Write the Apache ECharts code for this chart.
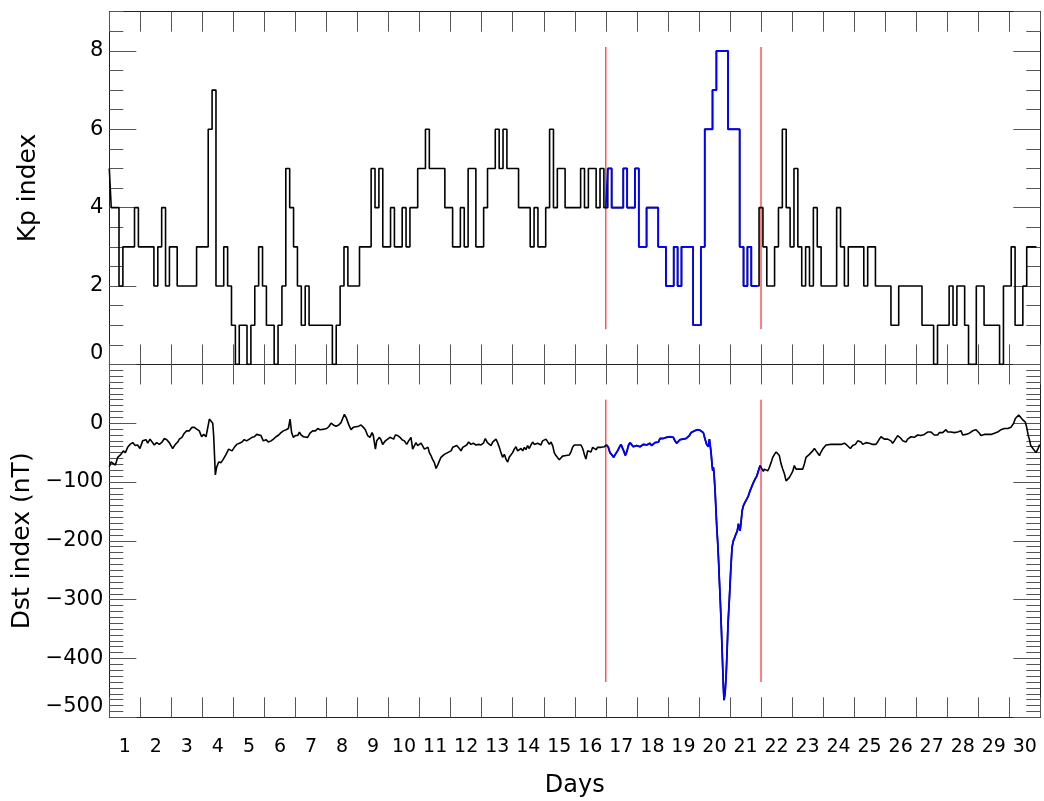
<!DOCTYPE html>
<html>
<head>
<meta charset="utf-8">
<script src="https://cdn.jsdelivr.net/npm/echarts@6.0.0/dist/echarts.min.js"></script>
<style>
html,body{margin:0;padding:0;background:#ffffff;}
#chart{width:1044px;height:801px;}
</style>
</head>
<body>
<div id="chart"></div>
<script>
// ================= DATA =================
const dayLabels = ['1','2','3','4','5','6','7','8','9','10','11','12','13','14','15',
                   '16','17','18','19','20','21','22','23','24','25','26','27','28','29','30'];

// Kp index, one value every 3 hours (240 values, 30 days)
const kpStepHours = 3;
const kpValues = [
  5,4,4,2,3,3,3,4,  3,3,3,3,2,3,4,2,  3,3,2,2,2,2,2,3,  3,3,6,7,2,2,3,2,
  1,0,1,1,0,1,2,3,  2,1,1,0,1,2,5,4,  3,2,1,2,1,1,1,1,  1,1,0,1,2,3,2,2,
  2,3,3,3,5,4,5,3,  3,4,3,3,4,3,4,4,  5,5,6,5,5,5,5,4,  4,3,3,4,3,5,5,3,
  3,4,5,5,6,5,6,5,  5,5,4,4,4,3,4,3,  3,4,6,4,5,5,4,4,  4,4,5,4,5,5,4,5,
  4,5,4,4,4,5,4,4,  5,3,3,4,4,4,3,3,  2,2,3,2,3,3,3,1,  1,3,6,6,7,8,8,8,
  6,6,6,3,2,3,2,2,  4,3,2,2,3,4,6,4,  3,5,3,2,3,2,4,3,  2,2,2,2,4,3,2,3,
  3,3,3,2,3,3,2,2,  2,2,1,1,2,2,2,2,  2,2,1,1,1,0,1,1,  1,2,1,2,2,1,0,0,
  2,2,1,1,1,1,0,2,  2,3,1,1,2,3,3,3
];

// Dst index (nT): sample times in hours from the start of day 1, and values
const dstHours = [
  0.0,1.3,2.6,4.7,6.5,9.0,10.8,12.4,14.2,16.0,18.1,20.1,21.9,23.7,25.8,27.1,28.4,29.7,31.5,33.0,
  34.8,36.6,38.7,40.8,42.6,44.4,46.4,49.0,51.1,52.9,54.2,56.2,58.0,59.8,61.9,64.0,65.8,67.6,69.6,71.4,
  73.0,74.8,76.1,77.4,78.9,80.0,80.7,81.5,82.0,83.0,84.6,86.4,88.2,90.3,92.3,93.3,94.9,96.7,98.5,100.6,
  102.6,104.4,106.2,108.3,110.4,112.2,114.0,115.5,117.3,119.1,121.2,123.0,125.1,126.9,128.9,131.0,132.8,134.6,136.7,138.5,
  139.8,141.0,142.3,143.9,
  145.7,147.0,148.3,150.1,151.6,153.4,155.2,157.3,159.4,161.2,163.0,164.5,166.3,168.1,169.7,171.5,173.3,175.3,177.4,179.2,
  180.5,181.8,183.1,185.1,186.9,188.7,190.8,192.9,194.7,196.5,198.0,199.8,201.6,203.2,204.2,205.8,206.8,208.9,210.1,211.4,
  213.5,215.3,217.1,218.6,219.9,221.2,223.0,224.8,226.4,228.2,230.0,231.5,233.3,234.6,235.9,237.2,238.5,239.8,241.1,242.4,
  243.7,245.0,246.5,247.5,248.8,250.1,251.4,252.7,254.0,255.3,256.5,257.8,259.1,260.4,261.7,263.0,264.3,265.6,266.9,268.7,
  270.7,272.0,273.3,274.6,276.4,277.9,279.7,281.5,283.6,285.7,287.5,289.3,290.8,292.4,
  293.9,295.2,296.5,297.7,299.0,300.3,301.6,302.9,304.2,305.5,306.8,308.1,309.3,310.6,311.9,313.2,314.5,315.8,317.1,318.4,
  319.7,321.0,322.2,323.5,324.8,326.1,327.4,328.7,330.0,331.3,332.5,333.8,335.1,336.4,337.7,339.0,340.3,341.6,342.9,344.1,
  345.4,346.7,348.0,349.3,350.6,351.9,353.2,354.5,355.8,357.0,358.3,359.6,360.9,362.2,363.5,364.8,366.1,367.4,368.6,369.9,
  371.2,372.5,373.8,375.1,376.4,377.7,379.0,380.2,381.5,382.8,383.6,
  384.6,385.9,387.2,388.8,390.0,391.3,393.1,394.4,395.7,397.0,397.8,399.1,400.4,401.6,402.7,404.0,405.2,406.5,407.8,409.1,
  410.4,411.7,413.0,414.3,415.6,416.8,418.1,419.4,420.7,422.0,423.3,424.6,425.9,427.2,428.4,429.7,431.0,432.3,433.6,434.9,
  436.2,437.5,438.8,440.1,441.3,
  442.2,443.5,444.7,446.0,447.3,448.6,449.9,451.2,452.5,453.8,455.1,
  456.9,458.4,459.4,460.7,462.0,463.3,464.1,464.6,465.4,466.2,466.7,467.2,467.7,468.5,469.2,469.8,470.5,471.3,471.8,472.6,
  473.4,474.1,474.9,475.4,476.2,477.0,477.8,478.5,479.6,480.6,481.6,482.6,483.7,484.7,485.7,486.5,487.0,487.8,488.6,489.4,
  490.4,491.7,493.0,494.3,495.5,496.8,498.1,499.4,500.7,502.0,503.3,
  504.8,505.8,506.6,507.9,509.2,510.5,511.8,513.1,514.4,515.7,516.9,518.2,519.5,520.8,522.1,523.4,524.7,526.0,527.2,528.5,
  529.8,531.1,532.4,533.7,535.0,536.3,537.6,538.8,540.1,541.4,542.7,544.0,545.3,546.6,547.9,549.2,550.4,551.7,553.0,554.3,
  555.6,558.2,560.8,563.3,565.9,568.5,570.3,571.8,573.1,574.9,577.0,578.8,580.1,581.4,582.7,583.9,
  585.2,586.5,587.8,589.1,590.4,591.6,592.9,594.2,595.5,596.8,598.1,599.4,600.7,602.0,603.2,604.5,605.8,607.1,608.4,609.7,
  611.0,612.3,613.6,614.8,616.1,617.4,618.7,620.0,621.3,622.6,623.9,625.2,626.4,627.7,629.0,630.3,631.6,632.9,634.2,635.5,
  636.8,638.0,639.3,640.6,641.9,643.2,644.5,645.8,647.1,648.4,649.7,650.9,652.2,653.5,654.8,656.1,657.4,658.7,660.0,661.3,
  662.5,663.8,665.1,666.4,667.7,669.0,670.3,671.6,672.9,674.1,675.4,676.7,678.0,679.3,680.6,681.9,683.2,684.5,685.7,687.0,
  688.3,689.6,690.9,692.2,693.5,694.8,696.1,697.3,698.6,
  699.4,700.7,702.0,703.3,704.6,705.9,707.1,708.4,709.5,710.5,711.5,712.6,713.6,714.6,715.6,716.7,717.7,718.7,719.5
];
const dstValues = [
  -74,-66,-68,-71,-58,-53,-47,-50,-41,-36,-33,-38,-37,-43,-30,-33,-28,-34,-27,-30,
  -37,-33,-36,-32,-26,-28,-33,-43,-36,-32,-27,-24,-17,-13,-13,-7,-7,-10,-13,-23,
  -19,-23,-20,7,5,0,-21,-61,-88,-75,-66,-67,-61,-53,-44,-41,-47,-41,-36,-34,
  -32,-28,-30,-27,-24,-23,-19,-21,-21,-30,-28,-32,-30,-27,-23,-20,-16,-13,-11,-9,
  7,-16,-24,-21,
  -21,-15,-20,-23,-20,-24,-17,-13,-13,-9,-11,-8,-10,-9,-6,0,-3,-5,-3,1,
  8,15,10,-2,-11,-7,-6,-5,-3,-7,-11,-21,-24,-16,-21,-44,-30,-24,-28,-36,
  -30,-27,-24,-21,-27,-20,-21,-24,-28,-30,-36,-30,-24,-44,-41,-33,-38,-41,-34,-37,
  -44,-47,-41,-50,-55,-62,-67,-77,-71,-64,-58,-60,-53,-55,-50,-53,-47,-41,-38,-38,
  -43,-47,-41,-38,-37,-32,-36,-34,-37,-36,-37,-34,-26,-33,
  -36,-38,-32,-33,-27,-33,-41,-50,-58,-53,-61,-66,-58,-60,-50,-44,-40,-47,-50,-43,
  -47,-41,-45,-38,-43,-37,-32,-36,-37,-34,-32,-37,-30,-28,-27,-30,-36,-32,-38,-50,
  -55,-53,-62,-60,-56,-58,-55,-53,-54,-49,-41,-37,-36,-37,-40,-37,-43,-53,-61,-47,
  -44,-49,-41,-38,-45,-41,-40,-41,-38,-40,-38,
  -37,-41,-50,-54,-58,-53,-47,-41,-36,-38,-47,-55,-47,-37,-33,-36,-40,-41,-38,-37,
  -40,-37,-36,-38,-37,-36,-34,-38,-40,-33,-34,-32,-26,-28,-26,-26,-24,-24,-23,-26,
  -24,-30,-34,-32,-28,
  -26,-27,-30,-26,-24,-21,-16,-15,-13,-11,-11,
  -12,-10,-16,-27,-36,-40,-27,-36,-50,-72,-81,-75,-86,-115,-149,-177,-202,-239,-267,-307,
  -352,-397,-448,-471,-459,-431,-386,-341,-296,-250,-211,-200,-194,-188,-183,-171,-168,-183,-168,-149,
  -140,-134,-129,-123,-115,-112,-101,-95,-90,-81,-72,
  -72,-82,-78,-75,-81,-75,-67,-58,-53,-49,-47,-55,-69,-78,-86,-98,-95,-92,-89,-82,
  -72,-78,-75,-78,-75,-78,-69,-58,-58,-53,-50,-47,-43,-47,-50,-55,-49,-44,-41,-37,
  -37,-36,-36,-36,-36,-34,-37,-36,-43,-38,-36,-30,-33,-32,-36,-34,
  -33,-32,-34,-32,-36,-33,-36,-32,-27,-23,-26,-27,-28,-27,-28,-30,-34,-30,-27,-21,
  -20,-26,-30,-27,-32,-27,-26,-23,-21,-24,-23,-20,-23,-21,-20,-19,-17,-15,-13,-15,
  -17,-20,-19,-20,-16,-19,-16,-13,-11,-15,-16,-15,-17,-16,-16,-15,-17,-13,-20,-23,
  -19,-16,-17,-15,-13,-13,-11,-10,-17,-21,-19,-19,-20,-19,-20,-19,-19,-17,-16,-15,
  -13,-11,-9,-9,-10,-9,-8,-7,-7,
  0,8,11,14,11,7,6,2,-7,-19,-27,-38,-41,-44,-47,-50,-49,-41,-36
];

// Highlighted storm interval (hours) and the two red marker times
const blueSpanHours = [384, 504];
const markHours = [384, 504];
const kpMarkRange = [0.9, 8.1];
const dstMarkRange = [-440, 40];

// Axis scales
const kpAxis = {min: 0, max: 9, major: 2, minor: 0.5};
const dstAxis = {min: -500, max: 100, major: 100, minor: 10};
const hourAxis = {min: 0, max: 720, step: 24};

// ================= CHART =================
const FONT = "'DejaVu Sans', 'Liberation Sans', sans-serif";
const FRAME = '#222';
const TICK = '#555';

const kpData = kpValues.map((v, k) => [k * kpStepHours, v]);
const kpBlue = kpData.filter(p => p[0] >= blueSpanHours[0] && p[0] < blueSpanHours[1]);
const nDst = Math.min(dstHours.length, dstValues.length);
const dstData = [];
for (let i = 0; i < nDst; i++) dstData.push([dstHours[i], dstValues[i]]);
const dstBlue = dstData.filter(p => p[0] >= blueSpanHours[0] && p[0] <= blueSpanHours[1]);

const minusFmt = v => (v < 0 ? '\u2212' + Math.abs(v) : String(v));

function xFrame(gi, pos) {
  return {
    type: 'value', gridIndex: gi, position: pos,
    min: hourAxis.min, max: hourAxis.max, interval: hourAxis.step,
    axisLine: {show: true, onZero: false, lineStyle: {color: FRAME, width: 1}},
    axisTick: {show: true, inside: true, length: 20, lineStyle: {color: TICK, width: 1}},
    axisLabel: {show: false}, splitLine: {show: false}
  };
}
function yMajor(gi, pos, ax, labelled, name) {
  const a = {
    type: 'value', gridIndex: gi, position: pos,
    min: ax.min, max: ax.max, interval: ax.major,
    axisLine: {show: true, onZero: false, lineStyle: {color: FRAME, width: 1}},
    axisTick: {show: true, inside: true, length: 27, lineStyle: {color: TICK, width: 1}},
    axisLabel: {show: labelled, fontFamily: FONT, fontSize: 21, color: '#000', margin: 6,
                showMaxLabel: false, verticalAlignMinLabel: 'bottom', formatter: minusFmt},
    splitLine: {show: false}
  };
  if (name) {
    a.name = name; a.nameLocation = 'middle'; a.nameGap = 68;
    a.nameTextStyle = {fontFamily: FONT, fontSize: 25, color: '#000'};
  }
  return a;
}
function yMinor(gi, pos, ax) {
  return {
    type: 'value', gridIndex: gi, position: pos,
    min: ax.min, max: ax.max, interval: ax.minor,
    axisLine: {show: false, onZero: false},
    axisTick: {show: true, inside: true, length: 14, lineStyle: {color: TICK, width: 1}},
    axisLabel: {show: false}, splitLine: {show: false}
  };
}
function redMarkSeries(xi, yi, range) {
  return markHours.map(h => ({
    type: 'line', xAxisIndex: xi, yAxisIndex: yi, silent: true,
    data: [[h, range[0]], [h, range[1]]],
    symbol: 'none', lineStyle: {color: '#ff0000', width: 1}, z: 1
  }));
}

const option = {
  animation: false,
  backgroundColor: '#ffffff',
  grid: [
    {left: 109.3, top: 11.7, width: 931, height: 352.7},
    {left: 109.3, top: 364.4, width: 931, height: 352.9}
  ],
  xAxis: [
    xFrame(0, 'bottom'), xFrame(0, 'top'),
    xFrame(1, 'bottom'), xFrame(1, 'top'),
    {
      type: 'category', gridIndex: 1, position: 'bottom', data: dayLabels, boundaryGap: true,
      axisLine: {show: false}, axisTick: {show: false}, splitLine: {show: false},
      axisLabel: {show: true, interval: 0, fontFamily: FONT, fontSize: 19, color: '#000', margin: 20},
      name: 'Days', nameLocation: 'middle', nameGap: 56,
      nameTextStyle: {fontFamily: FONT, fontSize: 24, color: '#000'}
    }
  ],
  yAxis: [
    yMajor(0, 'left', kpAxis, true, 'Kp index'), yMinor(0, 'left', kpAxis),
    yMajor(0, 'right', kpAxis, false), yMinor(0, 'right', kpAxis),
    yMajor(1, 'left', dstAxis, true, 'Dst index (nT)'), yMinor(1, 'left', dstAxis),
    yMajor(1, 'right', dstAxis, false), yMinor(1, 'right', dstAxis)
  ],
  series: [
    ...redMarkSeries(0, 0, kpMarkRange),
    ...redMarkSeries(2, 4, dstMarkRange),
    {type: 'line', xAxisIndex: 0, yAxisIndex: 0, data: kpData, step: 'middle',
     symbol: 'none', lineStyle: {color: '#000000', width: 1.6}, z: 2},
    {type: 'line', xAxisIndex: 0, yAxisIndex: 0, data: kpBlue, step: 'middle',
     symbol: 'none', lineStyle: {color: '#0000ff', width: 1.8}, z: 3},
    {type: 'line', xAxisIndex: 2, yAxisIndex: 4, data: dstData,
     symbol: 'none', lineStyle: {color: '#000000', width: 1.6}, z: 2},
    {type: 'line', xAxisIndex: 2, yAxisIndex: 4, data: dstBlue,
     symbol: 'none', lineStyle: {color: '#0000ff', width: 1.8}, z: 3}
  ]
};

const chart = echarts.init(document.getElementById('chart'), null, {renderer: 'canvas'});
chart.setOption(option);
</script>
</body>
</html>
